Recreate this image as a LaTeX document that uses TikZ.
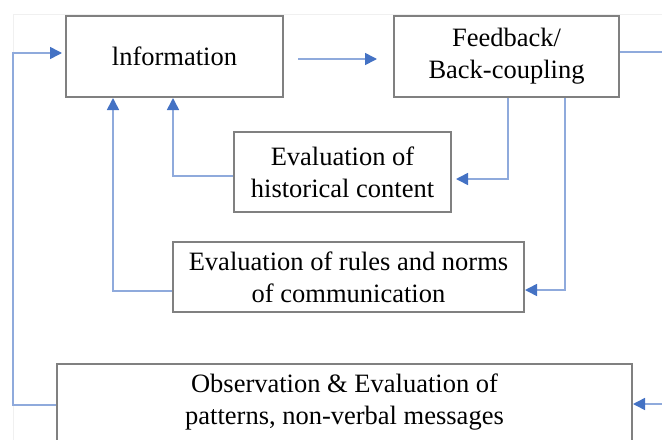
\documentclass[tikz,border=0pt]{standalone}
\usepackage{fontspec}
\setmainfont{Liberation Serif}
\usetikzlibrary{arrows.meta}
\definecolor{linkblue}{RGB}{143,170,220}
\definecolor{tipblue}{RGB}{68,114,196}
\definecolor{boxgray}{RGB}{128,128,128}
\definecolor{framegray}{RGB}{240,240,240}
\tikzset{
  box/.style={draw=boxgray, line width=1pt, fill=white, align=center, inner sep=0pt,
    font=\fontsize{13.25}{16}\selectfont},
  link/.style={draw=linkblue, line width=0.8pt,
    -{Triangle[length=6pt,width=6pt,color=tipblue]}},
}
\begin{document}
\begin{tikzpicture}[x=0.5pt,y=-0.5pt]
    \useasboundingbox (0,0) rectangle (662,439);
    \clip (0,0) rectangle (662,439);
    \draw[framegray] (13,460) -- (13,14) -- (680,14);

    \node[box, minimum width=108.5pt, minimum height=40.5pt] (info) at (174.5,56.5) {lnformation};
    \node[box, minimum width=112.5pt, minimum height=40.5pt] (feed) at (506.5,56.5) {Feedback/\\Back-coupling};
    \node[box, minimum width=108.5pt, minimum height=40pt] (hist) at (342.5,172) {Evaluation of\\historical content};
    \node[box, minimum width=175.5pt, minimum height=35pt] (rules) at (348.5,277) {Evaluation of rules and norms\\of communication};
    \node[box, minimum width=287.5pt, minimum height=38.5pt] (obs) at (344.5,402.5) {Observation \& Evaluation of\\patterns, non-verbal messages};

    \coordinate (leftturn) at (13,200);
    \coordinate (rightturn) at (680,200);

    \draw[link] ([xshift=7pt,yshift=-1.25pt]info.east) -- ([xshift=-8pt,yshift=-1.25pt]feed.west);
    \draw[link] ([yshift=2.25pt]feed.east) -| (rightturn) |- ([yshift=-0.75pt]obs.east);
    \draw[link, shorten >=1.5pt] ([yshift=-1.25pt]obs.west) -| (leftturn) |- ([yshift=1.75pt]info.west);
    \draw[link, shorten >=2pt] ([xshift=0.75pt]feed.south) |- ([yshift=-3.5pt]hist.east);
    \draw[link] ([xshift=29.25pt]feed.south) |- ([yshift=-6.5pt]rules.east);
    \draw[link] ([yshift=-2pt]hist.west) -| ([xshift=-0.75pt]info.south);
    \draw[link] ([yshift=-7pt]rules.west) -| ([xshift=-30.75pt]info.south);
\end{tikzpicture}
\end{document}
